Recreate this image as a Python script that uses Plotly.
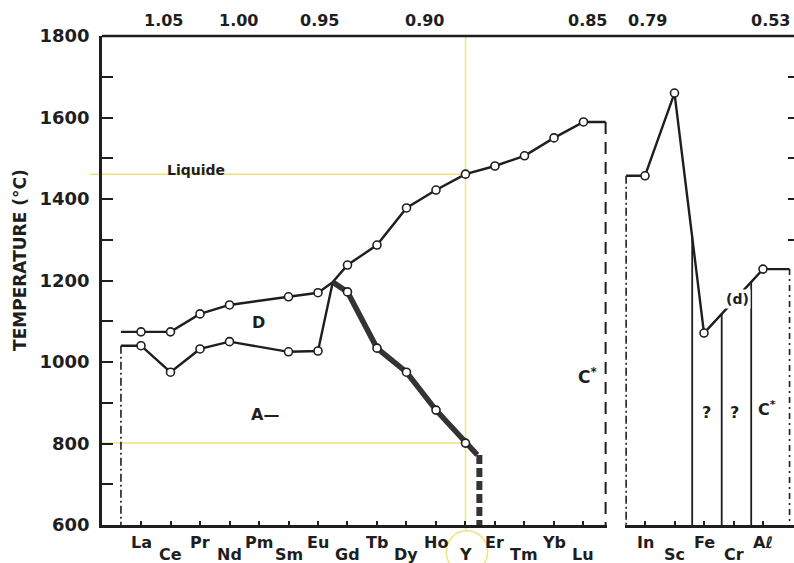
import plotly.graph_objects as go
import numpy as np

# ---------------- data ----------------
ln = ["La", "Ce", "Pr", "Nd", "Pm", "Sm", "Eu", "Gd", "Tb", "Dy", "Ho", "Y", "Er", "Tm", "Yb", "Lu"]
# upper limit of the D domain, La..Eu (no point for Pm)
t_upper = [1074, 1074, 1118, 1140, None, 1160, 1170]
# lower limit of the D domain (A -> D), La..Eu
t_lower = [1040, 975, 1032, 1050, None, 1025, 1027]
t_peak = 1196                      # meeting point between Eu and Gd
# liquidus, Gd..Lu
t_liquidus = [1238, 1287, 1378, 1422, 1461, 1481, 1506, 1550, 1589]
# upper limit of A (thick line), Gd..Y
t_A = [1172, 1034, 975, 882, 801]
t_A_end = 772

rt = ["In", "Sc", "Fe", "Cr", "Al"]
rt_text = ["In", "Sc", "Fe", "Cr", "Aℓ"]
t_rt = [1457, 1660, 1071, None, 1228]

top_text_l = ["1.05", "1.00", "0.95", "0.90", "0.85"]
top_text_r = ["0.79", "0.53"]

y_major = list(range(600, 1801, 200))
right_ticks = [1300, 1400, 1500, 1600, 1700]

# ---------------- layout constants ----------------
BLACK = "#1e1e1e"
YEL = "#f0e27c"
FONT = "DejaVu Sans"
top_pos_l = [0.75, 3.3, 6.05, 9.6, 15.12]
top_pos_r = [0.07, 4.27]
L_START, L_END = -0.68, 15.75
R_START, R_END = -0.64, 4.9
Y_END, Y_DASH = 11.4, 11.47
bounds_r = [1.6, 2.6, 3.6]
T_MIN, T_MAX = 600, 1800

xl = list(range(len(ln)))
xr = list(range(len(rt)))
iEu, iGd, iY = ln.index("Eu"), ln.index("Gd"), ln.index("Y")
x_peak = (iEu + iGd) / 2

fig = go.Figure()

line_thin = dict(color=BLACK, width=2.4)
mk = dict(symbol="circle", size=8, color="white", line=dict(color=BLACK, width=1.6))

# upper curve (D limit then liquidus)
up_x = [L_START] + xl[:iEu + 1] + [x_peak] + xl[iGd:] + [L_END]
up_y = [t_upper[0]] + t_upper + [t_peak] + t_liquidus + [t_liquidus[-1]]
fig.add_trace(go.Scatter(x=up_x, y=up_y, mode="lines", line=line_thin, connectgaps=True,
                         xaxis="x", yaxis="y", hoverinfo="skip"))
# lower curve
lo_x = [L_START] + xl[:iEu + 1] + [x_peak]
lo_y = [t_lower[0]] + t_lower + [t_peak]
fig.add_trace(go.Scatter(x=lo_x, y=lo_y, mode="lines", line=line_thin, connectgaps=True,
                         xaxis="x", yaxis="y", hoverinfo="skip"))
# thick A limit
th_x = [x_peak] + xl[iGd:iY + 1] + [Y_END]
th_y = [t_peak] + t_A + [t_A_end]
fig.add_trace(go.Scatter(x=th_x, y=th_y, mode="lines", line=dict(color="#333", width=5.5),
                         xaxis="x", yaxis="y", hoverinfo="skip"))
fig.add_trace(go.Scatter(x=[Y_DASH, Y_DASH], y=[t_A_end, T_MIN], mode="lines",
                         line=dict(color="#333", width=6, dash="9px,4px"),
                         xaxis="x", yaxis="y", hoverinfo="skip"))
# dashed edges left panel
fig.add_trace(go.Scatter(x=[L_START, L_START], y=[t_lower[0], T_MIN], mode="lines",
                         line=dict(color=BLACK, width=1.6, dash="8px,3px,2px,3px"),
                         xaxis="x", yaxis="y", hoverinfo="skip"))
fig.add_trace(go.Scatter(x=[L_END, L_END], y=[t_liquidus[-1], T_MIN], mode="lines",
                         line=dict(color=BLACK, width=2, dash="12px,8px"),
                         xaxis="x", yaxis="y", hoverinfo="skip"))
# markers left
for xs, ys in [(xl[:iEu + 1], t_upper), (xl[iGd:], t_liquidus), (xl[:iEu + 1], t_lower),
               (xl[iGd:iY + 1], t_A)]:
    fig.add_trace(go.Scatter(x=xs, y=ys, mode="markers", marker=mk,
                             xaxis="x", yaxis="y", hoverinfo="skip"))

# right panel
r_x = [R_START] + xr + [R_END]
r_y = [t_rt[0]] + t_rt + [t_rt[-1]]
fig.add_trace(go.Scatter(x=r_x, y=r_y, mode="lines", line=line_thin, connectgaps=True,
                         xaxis="x2", yaxis="y", hoverinfo="skip"))
known = [(x, t) for x, t in zip(xr, t_rt) if t is not None]
tops = np.interp(bounds_r, [k[0] for k in known], [k[1] for k in known])
bx, by = [], []
for b, t in zip(bounds_r, tops):
    bx += [b, b, None]
    by += [t, T_MIN, None]
fig.add_trace(go.Scatter(x=bx, y=by, mode="lines", line=dict(color=BLACK, width=1.8),
                         xaxis="x2", yaxis="y", hoverinfo="skip"))
fig.add_trace(go.Scatter(x=[R_START, R_START], y=[t_rt[0], T_MIN], mode="lines",
                         line=dict(color=BLACK, width=1.6, dash="8px,3px,2px,3px"),
                         xaxis="x2", yaxis="y", hoverinfo="skip"))
fig.add_trace(go.Scatter(x=[R_END, R_END], y=[t_rt[-1], T_MIN], mode="lines",
                         line=dict(color=BLACK, width=1.6, dash="6px,4px,2px,4px"),
                         xaxis="x2", yaxis="y", hoverinfo="skip"))
fig.add_trace(go.Scatter(x=xr, y=t_rt, mode="markers", marker=mk,
                         xaxis="x2", yaxis="y", hoverinfo="skip"))
# invisible trace for the right tick axis
fig.add_trace(go.Scatter(x=[xr[0]], y=[T_MIN], mode="markers", marker=dict(opacity=0),
                         xaxis="x2", yaxis="y2", hoverinfo="skip"))

# ---------------- annotations ----------------
ann = []
def txt(text, x, y, xref="x", yref="y", size=16, bold=True, **kw):
    kw.setdefault("xanchor", "center")
    kw.setdefault("yanchor", "middle")
    ann.append(dict(text=f"<b>{text}</b>" if bold else text, x=x, y=y, xref=xref, yref=yref,
                    showarrow=False, font=dict(family=FONT, size=size, color=BLACK), **kw))

for i, name in enumerate(ln):
    txt(name, xl[i], T_MIN, yshift=-17 if i % 2 == 0 else -29, size=16)
for i, name in enumerate(rt_text):
    txt(name, xr[i], T_MIN, xref="x2", yshift=-17 if i % 2 == 0 else -29, size=16)
for t, p in zip(top_text_l, top_pos_l):
    txt(t, p, 1, yref="paper", yshift=16, size=16)
for t, p in zip(top_text_r, top_pos_r):
    txt(t, p, 1, xref="x2", yref="paper", yshift=16, size=16)

txt("Liquide", 1.86, t_liquidus[iY - iGd], yshift=4, size=14)
txt("D", 3.97, 1096, size=16)
txt("A—", 4.2, 870, size=16)
txt("C<sup>*</sup>", 15.15, 965, size=17)
txt("(d)", 3.15, 1155, xref="x2", size=14, bgcolor="white")
txt("?", 2.07, 877, xref="x2", size=16)
txt("?", 3.05, 877, xref="x2", size=16)
txt("C<sup>*</sup>", 4.15, 885, xref="x2", size=16)
txt("TEMPERATURE (°C)", -0.1185, 0.542, xref="paper", yref="paper", size=17, textangle=-90)

# ---------------- shapes ----------------
shapes = [
    dict(type="line", xref="paper", yref="paper", x0=0, x1=1, y0=1, y1=1,
         line=dict(color=BLACK, width=2.5)),
    # yellow guide lines at Y
    dict(type="line", xref="x", yref="paper", x0=xl[iY], x1=xl[iY], y0=-0.01, y1=1,
         line=dict(color=YEL, width=1.5), layer="below"),
    dict(type="line", xref="paper", yref="y", x0=-0.017, x1=(xl[iY] + 1.322) / 17.119 * 0.7298,
         y0=t_liquidus[iY - iGd], y1=t_liquidus[iY - iGd], line=dict(color=YEL, width=1.5), layer="below"),
    dict(type="line", xref="x", yref="y", x0=-1.322, x1=xl[iY],
         y0=t_A[-1], y1=t_A[-1], line=dict(color=YEL, width=1.5), layer="below"),
    dict(type="circle", xref="x", yref="paper", x0=xl[iY] - 0.65, x1=xl[iY] + 0.75,
         y0=-0.055 - 0.043, y1=-0.055 + 0.043, line=dict(color=YEL, width=1.5)),
]

axis_common = dict(showline=True, linecolor=BLACK, linewidth=2.5, showgrid=False,
                   zeroline=False, ticks="inside", ticklen=4, tickwidth=1.5,
                   tickcolor=BLACK, showticklabels=False, fixedrange=True)

fig.update_layout(
    width=794, height=563,
    margin=dict(l=102, r=0, t=36, b=38),
    paper_bgcolor="white", plot_bgcolor="white",
    showlegend=False,
    xaxis=dict(domain=[0, 505 / 692], range=[-1.322, 15.797], tickvals=xl, anchor="y",
               **axis_common),
    xaxis2=dict(domain=[523 / 692, 1], range=[-0.678, 5.051], tickvals=xr, anchor="y",
                **axis_common),
    yaxis=dict(range=[T_MIN, T_MAX], domain=[0, 1], anchor="x", showline=True,
               linecolor=BLACK, linewidth=2.5, showgrid=False, zeroline=False,
               ticks="inside", ticklen=11, tickwidth=2, tickcolor=BLACK,
               tickvals=y_major, ticklabelstandoff=6,
               minor=dict(ticks="inside", ticklen=11, tickwidth=2, tickcolor=BLACK,
                          tick0=T_MIN, dtick=100, showgrid=False),
               tickfont=dict(family=FONT, size=18, color=BLACK, weight="bold"),
               fixedrange=True),
    yaxis2=dict(range=[T_MIN, T_MAX], overlaying="y", anchor="x2", side="right",
                showline=False, showgrid=False, zeroline=False, ticks="inside",
                ticklen=6, tickwidth=2, tickcolor=BLACK, tickvals=right_ticks,
                showticklabels=False, fixedrange=True),
    annotations=ann,
    shapes=shapes,
)

fig.write_html("out.html")
